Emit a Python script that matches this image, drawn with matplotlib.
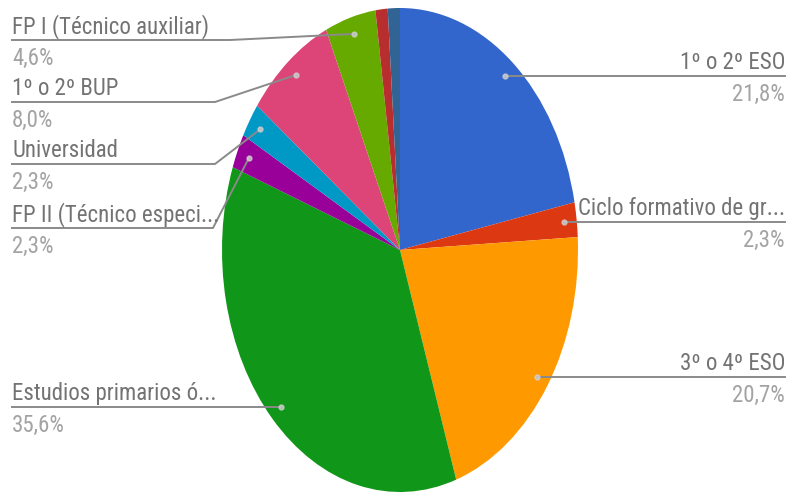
import os

os.environ.setdefault("MPLBACKEND", "Agg")
import matplotlib.pyplot as plt
import numpy as np

# Data (clockwise from 12 o'clock)
categories = [
    "1º o 2º ESO",
    "Ciclo formativo de gr...",
    "3º o 4º ESO",
    "Estudios primarios ó...",
    "FP II (Técnico especi...",
    "Universidad",
    "1º o 2º BUP",
    "FP I (Técnico auxiliar)",
    "",
    "",
]
shares = [21.8, 2.3, 20.7, 35.6, 2.3, 2.3, 8.0, 4.6, 1.1, 1.1]
colors = ["#3366cc", "#dc3912", "#ff9900", "#109618", "#990099",
          "#0099c6", "#dd4477", "#66aa00", "#b82e2e", "#316395"]

W, H = 793, 492
CX, CY, RX, RY = 400, 250, 178, 242

# label layout: (side, leader line y, knee x)
layout = {
    "1º o 2º ESO": ("right", None, None),
    "Ciclo formativo de gr...": ("right", None, None),
    "3º o 4º ESO": ("right", None, None),
    "Estudios primarios ó...": ("left", None, None),
    "FP II (Técnico especi...": ("left", 228, 213),
    "Universidad": ("left", 164, 215),
    "1º o 2º BUP": ("left", 102, 215),
    "FP I (Técnico auxiliar)": ("left", 40, 230),
}

FONT = ["Roboto Condensed", "Roboto", "DejaVu Sans"]
NAME_COLOR = "#737373"
PCT_COLOR = "#a3a3a3"
LINE_COLOR = "#8a8a8a"

fig = plt.figure(figsize=(W / 100, H / 100), dpi=100)

# pie axes sized to the (stretched) ellipse bounding box
ax = fig.add_axes([(CX - RX) / W, (H - CY - RY) / H, 2 * RX / W, 2 * RY / H])
ax.pie(shares, colors=colors, startangle=90, counterclock=False,
       wedgeprops=dict(linewidth=0))
ax.set_xlim(-1, 1)
ax.set_ylim(-1, 1)
ax.set_aspect("auto")
ax.axis("off")

# overlay in pixel coordinates for labels
ov = fig.add_axes([0, 0, 1, 1])
ov.set_xlim(0, W)
ov.set_ylim(H, 0)
ov.axis("off")

total = sum(shares)
start = 0.0
for name, val in zip(categories, shares):
    mid = (start + val / 2) / total * 2 * np.pi
    start += val
    if not name:
        continue
    dx = CX + 0.93 * RX * np.sin(mid)
    dy = CY - 0.93 * RY * np.cos(mid)
    ov.plot(dx, dy, "o", color="#cfcfcf", markersize=3.5, alpha=0.8, zorder=4)
    side, ly, knee = layout[name]
    pct = f"{val:.1f}".replace(".", ",") + "%"
    if side == "right":
        ly = dy
        ov.plot([dx, 785], [ly, ly], color=LINE_COLOR, lw=1.4, zorder=3)
        tx, ha = 785, "right"
    else:
        if ly is None:
            ly = dy
            ov.plot([12, dx], [ly, ly], color=LINE_COLOR, lw=1.4, zorder=3)
        else:
            ov.plot([12, knee, dx], [ly, ly, dy], color=LINE_COLOR, lw=1.4, zorder=3)
        tx, ha = 12, "left"
    ov.text(tx, ly - 7, name, ha=ha, va="baseline", fontsize=16.5,
            family=FONT, color=NAME_COLOR)
    ov.text(tx, ly + 25, pct, ha=ha, va="baseline", fontsize=16.5,
            family=FONT, color=PCT_COLOR)

fig.savefig("out.png", dpi=100)
